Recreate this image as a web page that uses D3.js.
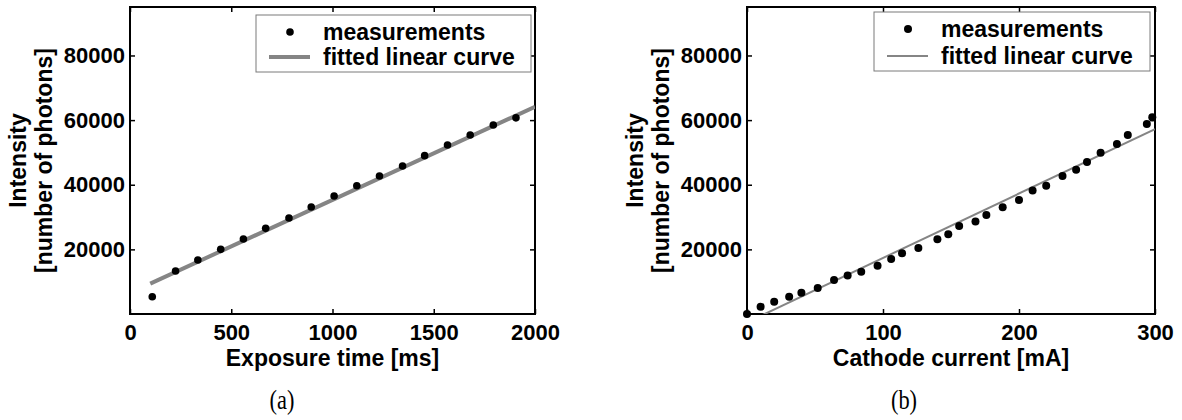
<!DOCTYPE html>
<html lang="en">
<head>
    <meta charset="UTF-8">
    <title>Intensity vs exposure time and cathode current</title>
    <script src="https://d3js.org/d3.v7.min.js"></script>
    <style>
        body {
            margin: 0;
            padding: 0;
            background-color: white;
        }
        svg {
            display: block;
        }
        .lbl {
            font-family: 'Liberation Sans', Arial, sans-serif;
            font-weight: bold;
            font-size: 23px;
            fill: black;
        }
        .caption {
            font-family: 'Liberation Serif', 'Times New Roman', serif;
            font-size: 28px;
            fill: black;
        }
    </style>
</head>
<body>
    <svg width="1182" height="420"></svg>

    <script>
        // (a) exposure time series
        const exposureTime = [110, 225, 335, 448, 560, 670, 785, 895, 1008, 1120, 1232, 1346, 1455, 1568, 1680, 1794, 1906];
        const exposureIntensity = [5350, 13300, 16700, 20000, 23200, 26500, 29700, 33100, 36500, 39700, 42700, 45800, 49000, 52300, 55400, 58500, 60700];
        const exposureFit = {slope: 28.8, intercept: 6520, from: 100, to: 2000};
        const exposureTicks = [0, 500, 1000, 1500, 2000];

        // (b) cathode current series
        const cathodeCurrent = [0, 10, 20, 31, 40, 52, 64, 74, 84, 96, 106, 114, 126, 140, 148, 156, 168, 176, 188, 200, 210, 220, 232, 242, 250, 260, 272, 280, 294, 298];
        const cathodeIntensity = [0, 2260, 3800, 5350, 6600, 8050, 10500, 11900, 13100, 14950, 17000, 18800, 20400, 23100, 24700, 27200, 28600, 30600, 33000, 35300, 38200, 39700, 42700, 44600, 47000, 49900, 52600, 55400, 58800, 60900];
        const cathodeFit = {slope: 199.3, intercept: -2590, from: 0, to: 300};
        const cathodeTicks = [0, 100, 200, 300];

        const intensityTicks = [20000, 40000, 60000, 80000];
        const legendLabels = ["measurements", "fitted linear curve"];

        const svg = d3.select("svg");

        function panel(opts) {
            const {id, left, right, top, bottom, xDomain, xTicks, xs, ys, fit, xTitle, caption, fitWidth, dotR, legend} = opts;
            const x = d3.scaleLinear().domain(xDomain).range([left, right]);
            const y = d3.scaleLinear().domain([0, 95000]).range([bottom, top]);

            const g = svg.append("g");

            g.append("clipPath").attr("id", "clip-" + id)
              .append("rect")
              .attr("x", left).attr("y", top)
              .attr("width", right - left).attr("height", bottom - top);

            // inward ticks on all four sides
            const tickStyle = sel => {
                sel.select(".domain").remove();
                sel.selectAll(".tick line").attr("stroke", "black").attr("stroke-width", 1.5);
            };
            g.append("g").attr("transform", `translate(0,${bottom})`)
              .call(d3.axisBottom(x).tickValues(xTicks).tickFormat(d3.format("d")).tickSizeInner(-5).tickSizeOuter(0).tickPadding(10))
              .call(tickStyle);
            g.append("g").attr("transform", `translate(0,${top})`)
              .call(d3.axisTop(x).tickValues(xTicks).tickFormat("").tickSizeInner(-5).tickSizeOuter(0))
              .call(tickStyle);
            g.append("g").attr("transform", `translate(${left},0)`)
              .call(d3.axisLeft(y).tickValues(intensityTicks).tickFormat(d3.format("d")).tickSizeInner(-5).tickSizeOuter(0).tickPadding(5))
              .call(tickStyle);
            g.append("g").attr("transform", `translate(${right},0)`)
              .call(d3.axisRight(y).tickValues(intensityTicks).tickFormat("").tickSizeInner(-5).tickSizeOuter(0))
              .call(tickStyle);

            g.selectAll(".tick text").style("font-family", "'Liberation Sans', Arial, sans-serif")
              .style("font-weight", "bold").style("font-size", "22px").attr("fill", "black");

            g.append("rect")
              .attr("x", left).attr("y", top)
              .attr("width", right - left).attr("height", bottom - top)
              .attr("fill", "none").attr("stroke", "black").attr("stroke-width", 2);

            // fitted line
            const fitPts = [fit.from, fit.to].map(v => [v, fit.slope * v + fit.intercept]);
            g.append("path")
              .datum(fitPts)
              .attr("clip-path", `url(#clip-${id})`)
              .attr("d", d3.line().x(d => x(d[0])).y(d => y(d[1])))
              .attr("fill", "none")
              .attr("stroke", "#858585")
              .attr("stroke-width", fitWidth);

            // measurements
            g.selectAll(".dot")
              .data(xs.map((v, i) => [v, ys[i]]))
              .enter().append("circle")
              .attr("cx", d => x(d[0]))
              .attr("cy", d => y(d[1]))
              .attr("r", dotR)
              .attr("fill", "black");

            // axis titles
            const midX = (left + right) / 2, midY = (top + bottom) / 2;
            g.append("text").attr("class", "lbl")
              .attr("x", midX).attr("y", bottom + 44)
              .attr("text-anchor", "middle").attr("dominant-baseline", "central")
              .text(xTitle);
            const yl = g.append("text").attr("class", "lbl")
              .attr("transform", `translate(${left - 99},${midY}) rotate(-90)`)
              .attr("text-anchor", "middle");
            yl.append("tspan").attr("x", 0).attr("y", -13).attr("dominant-baseline", "central").text("Intensity");
            yl.append("tspan").attr("x", 0).attr("y", 13).attr("dominant-baseline", "central").text("[number of photons]");

            // legend
            const lg = g.append("g");
            lg.append("rect")
              .attr("x", legend.x0).attr("y", legend.y0)
              .attr("width", legend.x1 - legend.x0).attr("height", legend.y1 - legend.y0)
              .attr("fill", "white").attr("stroke", "#7a7a7a").attr("stroke-width", 1);
            lg.append("circle")
              .attr("cx", legend.x0 + 34).attr("cy", legend.row1)
              .attr("r", dotR).attr("fill", "black");
            lg.append("line")
              .attr("x1", legend.x0 + 13).attr("x2", legend.x0 + 54)
              .attr("y1", legend.row2).attr("y2", legend.row2)
              .attr("stroke", "#858585").attr("stroke-width", fitWidth);
            lg.selectAll(".ltext")
              .data(legendLabels)
              .enter().append("text").attr("class", "lbl")
              .attr("x", legend.x0 + 67)
              .attr("y", (d, i) => i === 0 ? legend.row1 : legend.row2)
              .attr("dominant-baseline", "central")
              .text(d => d);

            // caption: condensed serif, narrower than it is tall
            svg.append("text").attr("class", "caption")
              .attr("transform", `translate(${caption.x},${caption.y}) scale(0.8,1)`)
              .attr("text-anchor", "middle").attr("dominant-baseline", "central")
              .text(caption.text);
        }

        panel({
            id: "a", left: 130, right: 535, top: 7, bottom: 314,
            xDomain: [0, 2000], xTicks: exposureTicks,
            xs: exposureTime, ys: exposureIntensity, fit: exposureFit,
            xTitle: "Exposure time [ms]", fitWidth: 4, dotR: 3.8,
            caption: {x: 282, y: 399, text: "(a)"},
            legend: {x0: 256, x1: 531, y0: 15, y1: 72, row1: 32, row2: 57}
        });

        panel({
            id: "b", left: 747, right: 1155, top: 7, bottom: 314,
            xDomain: [0, 300], xTicks: cathodeTicks,
            xs: cathodeCurrent, ys: cathodeIntensity, fit: cathodeFit,
            xTitle: "Cathode current [mA]", fitWidth: 2, dotR: 4,
            caption: {x: 904, y: 399, text: "(b)"},
            legend: {x0: 874, x1: 1150, y0: 12, y1: 71, row1: 29, row2: 56}
        });
    </script>
</body>
</html>
